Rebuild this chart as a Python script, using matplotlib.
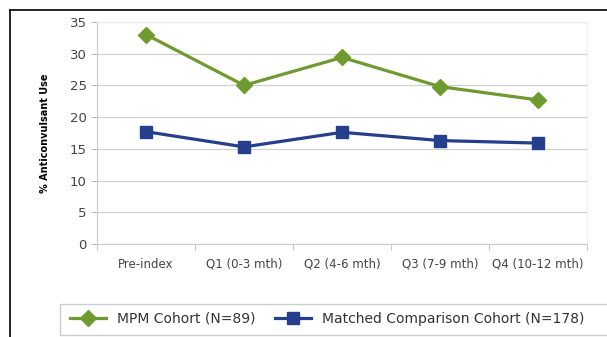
import matplotlib.pyplot as plt
from matplotlib.lines import Line2D
from matplotlib.patches import Rectangle

categories = ['Pre-index', 'Q1 (0-3 mth)', 'Q2 (4-6 mth)', 'Q3 (7-9 mth)', 'Q4 (10-12 mth)']
mpm = [33.0, 25.0, 29.4, 24.8, 22.7]
matched = [17.7, 15.3, 17.6, 16.3, 15.9]
labels = ['MPM Cohort (N=89)', 'Matched Comparison Cohort (N=178)']

green = '#6f9a2f'
blue = '#263f8c'

fig = plt.figure(figsize=(6.07, 3.37), dpi=100)
ax = fig.add_axes([0.16, 0.276, 0.807, 0.659])

x = range(len(categories))
ax.plot(x, mpm, color=green, lw=2.3, marker='D', ms=8, label=labels[0])
ax.plot(x, matched, color=blue, lw=2.3, marker='s', ms=8, label=labels[1])

ax.set_xlim(-0.5, len(categories) - 0.5)
ax.set_ylim(0, 35)
ax.set_yticks(range(0, 36, 5))
ax.set_xticks(list(x))
ax.set_xticklabels(categories, fontsize=8.5, color='#444444')
ax.set_xticks([i - 0.5 for i in range(len(categories) + 1)], minor=True)
ax.tick_params(axis='x', which='major', length=0, pad=10)
ax.tick_params(axis='x', which='minor', length=4, color='#bbbbbb')
ax.tick_params(axis='y', length=4, color='#bbbbbb', labelsize=9.5, labelcolor='#444444')
ax.grid(axis='y', color='#d0d0d0', lw=0.9)
ax.set_axisbelow(True)
for s in ax.spines.values():
    s.set_color('#cccccc')
ax.spines['top'].set_color('#eeeeee')
ax.spines['right'].set_color('#eeeeee')
ax.set_ylabel('% Anticonvulsant Use', fontsize=7, fontweight='bold', labelpad=14)

# black border lines from the original screenshot crop
fig.add_artist(Line2D([10 / 607, 1], [1 - 10 / 337, 1 - 10 / 337], color='black', lw=1.2))
fig.add_artist(Line2D([10 / 607, 10 / 607], [0, 1 - 10 / 337], color='black', lw=1.2))

# legend frame running off the right edge
fig.add_artist(Rectangle((60 / 607, 2 / 337), 0.95, 31 / 337, transform=fig.transFigure,
                         facecolor='white', edgecolor='#cccccc', lw=1))
handles, lbls = ax.get_legend_handles_labels()
leg = fig.legend(handles, lbls, loc='center left', bbox_to_anchor=(64 / 607, 18 / 337),
                 ncol=2, fontsize=10, frameon=False, handlelength=2.6,
                 columnspacing=1.4, handletextpad=0.8, borderaxespad=0)
for t in leg.get_texts():
    t.set_color('#333333')

fig.savefig('out.png', dpi=100)
